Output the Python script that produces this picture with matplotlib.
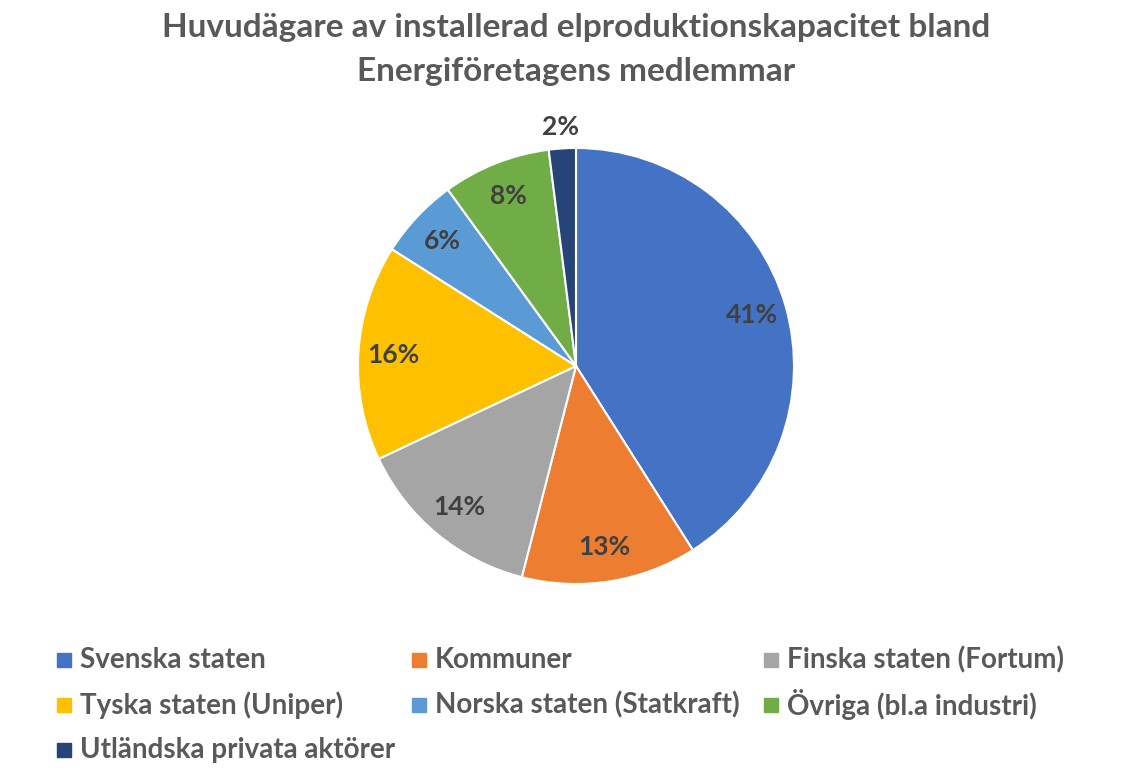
import numpy as np
import matplotlib.pyplot as plt
from matplotlib.patches import Rectangle

plt.rcParams['font.family'] = ['Lato', 'DejaVu Sans']

labels = ['Svenska staten', 'Kommuner', 'Finska staten (Fortum)',
          'Tyska staten (Uniper)', 'Norska staten (Statkraft)',
          'Övriga (bl.a industri)', 'Utländska privata aktörer']
shares = [41, 13, 14, 16, 6, 8, 2]
colors = ['#4472C4', '#ED7D31', '#A5A5A5', '#FFC000', '#5B9BD5', '#70AD47', '#264478']
title_lines = ['Huvudägare av installerad elproduktionskapacitet bland',
               'Energiföretagens medlemmar']

W, H = 1126, 779
fig = plt.figure(figsize=(W / 100, H / 100), dpi=100)

cx, cy, r = 576, 366, 218
ax = fig.add_axes([(cx - r) / W, 1 - (cy + r) / H, 2 * r / W, 2 * r / H])

wedges, texts, autotexts = ax.pie(
    shares, colors=colors, startangle=90, counterclock=False,
    autopct='%1.0f%%', pctdistance=0.84,
    wedgeprops=dict(edgecolor='white', linewidth=1.5),
    textprops=dict(fontsize=19, fontweight='bold', color='#404040'))
ax.set_xlim(-1, 1)
ax.set_ylim(-1, 1)
ax.set_aspect('equal')

# smallest slice gets its label outside
w = wedges[-1]
ang = np.deg2rad((w.theta1 + w.theta2) / 2)
autotexts[-1].set_position((1.1 * np.cos(ang), 1.1 * np.sin(ang)))

for y, line in zip([27, 72], title_lines):
    fig.text(cx / W, 1 - y / H, line, ha='center', va='center', fontsize=24,
             fontweight='bold', color='#595959')

col_x = [57, 412, 764]
row_y = [660, 705, 750]
for i, lab in enumerate(labels):
    x = col_x[i % 3]
    y = row_y[i // 3]
    fig.add_artist(Rectangle((x / W, 1 - (y + 7) / H), 14 / W, 14 / H,
                             transform=fig.transFigure, color=colors[i]))
    fig.text((x + 23) / W, 1 - y / H, lab, ha='left', va='center',
             fontsize=20, fontweight='bold', color='#595959')

fig.savefig('out.png', dpi=100)
